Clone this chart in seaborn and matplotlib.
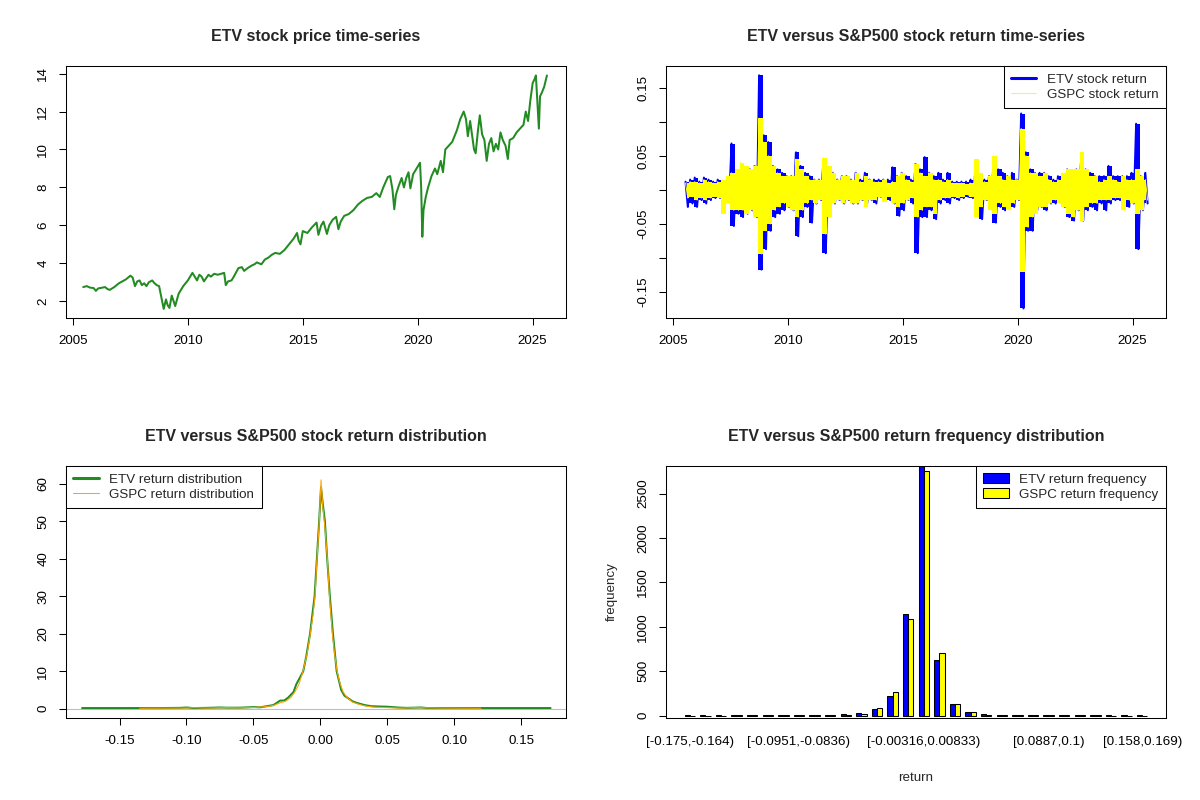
import numpy as np
import matplotlib
matplotlib.use("Agg")
import matplotlib.pyplot as plt
import seaborn as sns
from matplotlib.lines import Line2D
from matplotlib.patches import Patch

# ETV price (year fraction / price)
price_t = [2005.45, 2005.6, 2005.75, 2005.9, 2006.0, 2006.1, 2006.2, 2006.4, 2006.5, 2006.6,
           2006.8, 2007.0, 2007.15, 2007.3, 2007.5, 2007.6, 2007.7, 2007.8, 2007.9, 2008.0,
           2008.1, 2008.2, 2008.3, 2008.45, 2008.55, 2008.65, 2008.75, 2008.85, 2008.95, 2009.05,
           2009.12, 2009.2, 2009.3, 2009.38, 2009.45, 2009.6, 2009.8, 2010.0, 2010.2, 2010.3,
           2010.4, 2010.5, 2010.6, 2010.7, 2010.9, 2011.0, 2011.15, 2011.3, 2011.45, 2011.58,
           2011.65, 2011.75, 2011.9, 2012.0, 2012.2, 2012.35, 2012.45, 2012.6, 2012.8, 2012.9,
           2013.0, 2013.2, 2013.35, 2013.5, 2013.65, 2013.8, 2014.0, 2014.1, 2014.2, 2014.4,
           2014.6, 2014.75, 2014.82, 2014.9, 2015.0, 2015.2, 2015.4, 2015.6, 2015.68, 2015.8,
           2015.9, 2016.05, 2016.15, 2016.3, 2016.45, 2016.55, 2016.65, 2016.8, 2017.0, 2017.2,
           2017.4, 2017.6, 2017.8, 2018.0, 2018.1, 2018.2, 2018.35, 2018.5, 2018.7, 2018.8,
           2018.9, 2018.98, 2019.05, 2019.15, 2019.3, 2019.4, 2019.5, 2019.6, 2019.68, 2019.8,
           2019.95, 2020.1, 2020.15, 2020.2, 2020.25, 2020.35, 2020.45, 2020.6, 2020.75, 2020.85,
           2021.0, 2021.1, 2021.2, 2021.35, 2021.5, 2021.7, 2021.85, 2022.0, 2022.1, 2022.18,
           2022.28, 2022.38, 2022.45, 2022.52, 2022.62, 2022.7, 2022.8, 2022.9, 2023.0, 2023.1,
           2023.2, 2023.3, 2023.4, 2023.5, 2023.6, 2023.7, 2023.82, 2023.92, 2024.0, 2024.15,
           2024.3, 2024.45, 2024.6, 2024.7, 2024.8, 2024.9, 2025.0, 2025.08, 2025.14, 2025.2,
           2025.27, 2025.32, 2025.4, 2025.5, 2025.62]
price_v = [2.75, 2.8, 2.72, 2.7, 2.55, 2.68, 2.7, 2.75, 2.65, 2.6,
           2.75, 2.95, 3.05, 3.15, 3.35, 3.25, 2.8, 3.05, 3.1, 2.85,
           2.95, 2.8, 3.0, 3.1, 2.95, 2.85, 2.8, 2.2, 1.6, 2.1,
           1.8, 1.65, 2.3, 2.0, 1.75, 2.4, 2.8, 3.1, 3.5, 3.3,
           3.1, 3.4, 3.3, 3.05, 3.4, 3.3, 3.45, 3.4, 3.45, 3.5,
           2.85, 3.05, 3.1, 3.3, 3.75, 3.8, 3.6, 3.75, 3.9, 3.95,
           4.05, 3.95, 4.2, 4.3, 4.45, 4.55, 4.5, 4.6, 4.7, 5.0,
           5.3, 5.6, 5.2, 5.0, 5.7, 5.6, 5.9, 6.15, 5.5, 6.0,
           6.2, 5.55, 6.0, 6.3, 6.45, 5.8, 6.2, 6.5, 6.6, 6.8,
           7.1, 7.3, 7.45, 7.5, 7.6, 7.7, 7.5, 8.0, 8.55, 8.6,
           7.9, 6.85, 7.6, 8.0, 8.5, 8.0, 8.5, 8.8, 7.95, 8.7,
           9.0, 9.3, 8.0, 5.4, 6.8, 7.5, 8.0, 8.6, 9.0, 8.7,
           9.4, 8.8, 10.0, 10.2, 10.4, 11.0, 11.6, 12.0, 11.6, 10.7,
           11.5, 10.6, 10.0, 9.8, 11.0, 11.8, 10.8, 10.5, 9.4, 10.3,
           10.6, 9.9, 10.3, 10.0, 10.9, 10.5, 10.2, 9.5, 10.5, 10.6,
           10.9, 11.1, 11.3, 12.0, 11.5, 12.6, 13.5, 13.7, 13.9, 12.6,
           11.1, 12.8, 13.0, 13.3, 13.9]

# daily returns, summarised as high / low swing per 0.2-year slot starting 2005.5
ret_start = 2005.5
etv_hi = [.012, .015, .018, .012, .018, .015, .012, .015, .012, .015,
          .068, .025, .030, .030, .030, .035, .168, .080, .070, .035,
          .030, .025, .020, .020, .055, .035, .025, .020, .015, .015,
          .045, .030, .025, .015, .020, .020, .015, .025, .015, .025,
          .015, .015, .015, .015, .015, .033, .020, .025, .020, .015,
          .038, .030, .048, .025, .020, .025, .015, .025, .012, .012,
          .012, .012, .015, .025, .020, .015, .020, .045, .030, .025,
          .020, .025, .015, .112, .055, .030, .025, .025, .025, .020,
          .015, .020, .020, .030, .025, .030, .040, .030, .025, .020,
          .020, .020, .035, .020, .020, .020, .020, .025, .097, .020,
          .025]
etv_lo = [-.025, -.020, -.025, -.015, -.020, -.015, -.012, -.012, -.020, -.015,
          -.053, -.035, -.040, -.035, -.030, -.040, -.117, -.087, -.060, -.040,
          -.035, -.030, -.025, -.030, -.068, -.040, -.025, -.048, -.020, -.015,
          -.093, -.030, -.020, -.015, -.020, -.015, -.020, -.020, -.015, -.020,
          -.015, -.020, -.010, -.015, -.015, -.020, -.038, -.030, -.015, -.020,
          -.093, -.040, -.040, -.030, -.043, -.020, -.015, -.020, -.012, -.015,
          -.012, -.010, -.012, -.030, -.043, -.015, -.025, -.048, -.025, -.030,
          -.025, -.025, -.015, -.174, -.060, -.060, -.030, -.025, -.030, -.020,
          -.020, -.015, -.025, -.040, -.045, -.030, -.045, -.030, -.025, -.030,
          -.020, -.030, -.020, -.015, -.015, -.020, -.025, -.020, -.087, -.030,
          -.020]
gspc_hi = [.010, .012, .012, .010, .015, .012, .010, .012, .015, .020,
           .025, .030, .040, .035, .030, .035, .105, .070, .050, .035,
           .025, .020, .020, .020, .045, .030, .020, .015, .015, .015,
           .047, .035, .025, .015, .020, .020, .015, .025, .012, .020,
           .015, .012, .012, .015, .010, .012, .020, .025, .015, .012,
           .038, .025, .020, .025, .015, .015, .012, .015, .010, .010,
           .010, .008, .010, .045, .025, .012, .020, .050, .020, .015,
           .020, .015, .015, .090, .050, .025, .025, .020, .025, .015,
           .012, .015, .025, .030, .030, .030, .055, .030, .020, .020,
           .012, .015, .020, .015, .012, .020, .015, .015, .030, .020,
           .015]
gspc_lo = [-.012, -.010, -.015, -.012, -.015, -.012, -.010, -.012, -.035, -.020,
           -.030, -.030, -.030, -.035, -.030, -.040, -.094, -.060, -.050, -.030,
           -.025, -.020, -.025, -.030, -.040, -.030, -.020, -.015, -.020, -.015,
           -.065, -.040, -.020, -.015, -.020, -.015, -.020, -.020, -.015, -.025,
           -.015, -.015, -.010, -.018, -.010, -.020, -.025, -.020, -.015, -.012,
           -.040, -.030, -.025, -.025, -.035, -.015, -.012, -.012, -.010, -.012,
           -.010, -.008, -.010, -.040, -.025, -.015, -.030, -.035, -.020, -.025,
           -.030, -.020, -.015, -.120, -.055, -.040, -.035, -.025, -.025, -.020,
           -.015, -.020, -.025, -.035, -.040, -.030, -.045, -.025, -.020, -.020,
           -.015, -.015, -.015, -.012, -.012, -.030, -.015, -.020, -.035, -.030,
           -.015]

# kernel density curves
etv_dx = [-0.178, -0.15, -0.12, -0.105, -0.1, -0.095, -0.085, -0.075, -0.07, -0.06,
          -0.05, -0.045, -0.04, -0.035, -0.03, -0.027, -0.024, -0.02, -0.018, -0.015,
          -0.0128, -0.0105, -0.0077, -0.006, -0.0043, -0.0026, -0.0009, 0.0005, 0.0017, 0.0034,
          0.0051, 0.0071, 0.0094, 0.0108, 0.0122, 0.0156, 0.018, 0.02, 0.024, 0.027,
          0.033, 0.038, 0.045, 0.05, 0.06, 0.065, 0.075, 0.08, 0.09, 0.11,
          0.14, 0.172]
etv_dy = [0.2, 0.2, 0.2, 0.25, 0.35, 0.2, 0.25, 0.35, 0.3, 0.3,
          0.45, 0.4, 0.7, 1.0, 2.2, 2.2, 3.0, 4.5, 6.5, 8.5,
          10, 14, 20, 25, 30, 40, 50, 59, 55, 50,
          40, 30, 20, 15, 10, 5, 3.5, 3, 2.0, 1.6,
          1.0, 0.7, 0.6, 0.55, 0.3, 0.25, 0.35, 0.2, 0.2, 0.2,
          0.2, 0.2]
gspc_dx = [-0.135, -0.1, -0.095, -0.085, -0.07, -0.06, -0.05, -0.04, -0.035, -0.03,
           -0.026, -0.022, -0.019, -0.016, -0.013, -0.01, -0.0075, -0.0055, -0.004, -0.0025,
           -0.0008, 0.0005, 0.0018, 0.0035, 0.0052, 0.0068, 0.009, 0.0105, 0.0125, 0.0145,
           0.017, 0.02, 0.024, 0.028, 0.033, 0.04, 0.05, 0.06, 0.07, 0.09,
           0.12]
gspc_dy = [0.15, 0.2, 0.3, 0.2, 0.3, 0.25, 0.35, 0.6, 0.9, 1.6,
           2.0, 3.0, 4.5, 6.5, 10, 14.5, 20, 25, 30, 40,
           50, 61, 54, 48, 40, 30, 20, 15, 10, 7,
           4.5, 3, 1.8, 1.3, 0.8, 0.45, 0.3, 0.2, 0.3, 0.2,
           0.15]

# frequency table, 30 return bins
bin_labels = ["[-0.175,-0.164)", "[-0.0951,-0.0836)", "[-0.00316,0.00833)", "[0.0887,0.1)", "[0.158,0.169)"]
bin_label_idx = [1, 8, 16, 24, 30]
etv_freq = [2, 2, 2, 3, 3, 4, 5, 8, 10, 10, 12, 26, 74, 215, 1140,
            2812, 620, 130, 37, 12, 10, 8, 6, 8, 4, 3, 2, 2, 2, 2]
gspc_freq = [0, 0, 0, 1, 1, 2, 3, 5, 6, 8, 10, 20, 85, 260, 1085,
             2756, 706, 125, 37, 10, 8, 6, 4, 3, 2, 1, 1, 0, 0, 0]

sns.set_style("white")
plt.rcParams['font.family'] = ['Liberation Sans', 'DejaVu Sans']
plt.rcParams['axes.unicode_minus'] = False

FS = 9.6
LW1 = 0.75


def style_axes(ax, title):
    for s in ax.spines.values():
        s.set_visible(True)
        s.set_color('black')
        s.set_linewidth(LW1)
        s.set_zorder(10)
    ax.tick_params(direction='out', length=5, width=LW1, colors='black',
                   labelsize=FS, pad=7, bottom=True, left=True)
    ax.tick_params(axis='y', labelrotation=90)
    for lab in ax.get_yticklabels():
        lab.set_va('center')
    ax.set_title(title, fontsize=11.5, fontweight='bold', pad=18)
    ax.grid(False)


def r_legend(ax, handles, loc):
    leg = ax.legend(handles=handles, loc=loc, fontsize=FS, frameon=True, fancybox=False,
                    edgecolor='black', framealpha=1, borderaxespad=0, borderpad=0.55,
                    labelspacing=0.2, handlelength=1.9, handletextpad=0.8)
    leg.get_frame().set_linewidth(LW1)
    leg.set_zorder(20)


fig = plt.figure(figsize=(12, 8), dpi=100)
W, H = 500 / 1200, 252 / 800
ax1 = fig.add_axes([66 / 1200, 1 - 318 / 800, W, H])
ax2 = fig.add_axes([666 / 1200, 1 - 318 / 800, W, H])
ax3 = fig.add_axes([66 / 1200, 1 - 718 / 800, W, H])
ax4 = fig.add_axes([666 / 1200, 1 - 718 / 800, W, H])

# price series
sns.lineplot(x=price_t, y=price_v, ax=ax1, color='#228B22', linewidth=1.45, estimator=None)
ax1.set_xlim(2004.70, 2026.45)
ax1.set_ylim(1.12, 14.40)
ax1.set_xticks([2005, 2010, 2015, 2020, 2025])
ax1.set_yticks([2, 4, 6, 8, 10, 12, 14])
ax1.set_xlabel('')
ax1.set_ylabel('')
style_axes(ax1, 'ETV stock price time-series')

# return series: swing band per slot plus the zig-zag of the swings
starts = ret_start + 0.2 * np.arange(len(etv_hi))
centers = starts + 0.1
ret_t = np.column_stack([starts + 0.05, starts + 0.15]).ravel()
etv_ret = np.column_stack([etv_hi, etv_lo]).ravel()
gspc_ret = np.column_stack([gspc_hi, gspc_lo]).ravel()
ax2.fill_between(centers, etv_lo, etv_hi, step='mid', color='blue', lw=0, zorder=1)
sns.lineplot(x=ret_t, y=etv_ret, ax=ax2, color='blue', linewidth=1.45, estimator=None, zorder=2)
ax2.fill_between(centers, gspc_lo, gspc_hi, step='mid', color='yellow', lw=0, zorder=3)
sns.lineplot(x=ret_t, y=gspc_ret, ax=ax2, color='yellow', linewidth=0.75, estimator=None, zorder=4)
ax2.set_xlim(2004.70, 2026.45)
ax2.set_ylim(-0.188, 0.1817)
ax2.set_xticks([2005, 2010, 2015, 2020, 2025])
ax2.set_yticks([-0.15, -0.10, -0.05, 0, 0.05, 0.10, 0.15])
ax2.set_yticklabels(['-0.15', '', '-0.05', '', '0.05', '', '0.15'])
ax2.set_xlabel('')
ax2.set_ylabel('')
style_axes(ax2, 'ETV versus S&P500 stock return time-series')
r_legend(ax2, [Line2D([], [], color='blue', lw=2.2, label='ETV stock return'),
               Line2D([], [], color='yellow', lw=0.75, label='GSPC stock return')], 'upper right')

# density
ax3.axhline(0, color='#BEBEBE', lw=LW1)
sns.lineplot(x=etv_dx, y=etv_dy, ax=ax3, color='#228B22', linewidth=1.45, estimator=None)
sns.lineplot(x=gspc_dx, y=gspc_dy, ax=ax3, color='orange', linewidth=0.75, estimator=None)
ax3.set_xlim(-0.190, 0.1835)
ax3.set_ylim(-2.45, 64.7)
ax3.set_xticks([-0.15, -0.10, -0.05, 0, 0.05, 0.10, 0.15])
ax3.set_xticklabels(['-0.15', '-0.10', '-0.05', '0.00', '0.05', '0.10', '0.15'])
ax3.set_yticks([0, 10, 20, 30, 40, 50, 60])
ax3.set_xlabel('')
ax3.set_ylabel('')
style_axes(ax3, 'ETV versus S&P500 stock return distribution')
r_legend(ax3, [Line2D([], [], color='#228B22', lw=2.2, label='ETV return distribution'),
               Line2D([], [], color='orange', lw=0.75, label='GSPC return distribution')], 'upper left')

# frequency bars, R barplot layout: groups of two bars with one-bar gap
k = np.arange(1, len(etv_freq) + 1)
ax4.bar(3 * k - 1.5, etv_freq, width=1, color='blue', edgecolor='black', linewidth=LW1)
ax4.bar(3 * k - 0.5, gspc_freq, width=1, color='yellow', edgecolor='black', linewidth=LW1)
ax4.set_xlim(1 - 0.04 * 89, 90 + 0.04 * 89)
ax4.set_ylim(-0.01 * max(etv_freq), max(etv_freq))
ax4.set_yticks([0, 500, 1000, 1500, 2000, 2500])
ax4.set_xticks([3 * i - 1 for i in bin_label_idx])
ax4.set_xticklabels(bin_labels)
style_axes(ax4, 'ETV versus S&P500 return frequency distribution')
ax4.tick_params(axis='x', length=0, pad=13)
ax4.set_xlabel('return', fontsize=FS, labelpad=17)
ax4.set_ylabel('frequency', fontsize=FS, labelpad=14)
r_legend(ax4, [Patch(facecolor='blue', edgecolor='black', lw=LW1, label='ETV return frequency'),
               Patch(facecolor='yellow', edgecolor='black', lw=LW1, label='GSPC return frequency')],
         'upper right')

fig.savefig('out.png', dpi=100, facecolor='white')
